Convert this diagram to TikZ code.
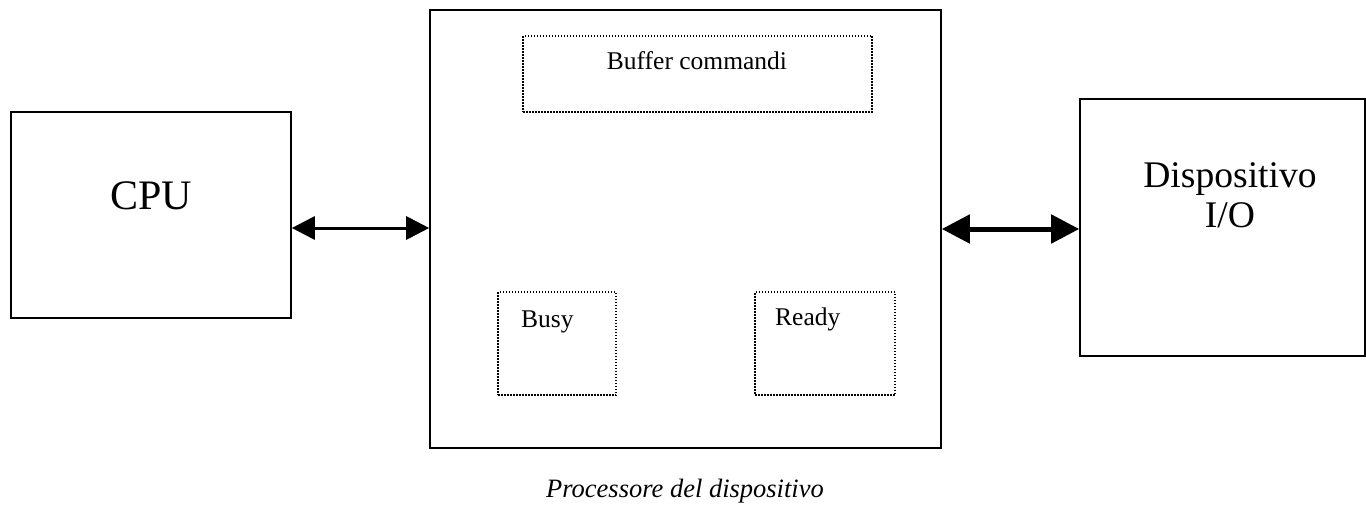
\documentclass[tikz,border=0pt]{standalone}
\usepackage{fontspec}
\setmainfont{Liberation Serif}
\usetikzlibrary{arrows.meta}
\begin{document}
\begin{tikzpicture}[x=1pt,y=-1pt,
  box/.style={draw, line width=1.6pt, inner sep=0pt, rectangle},
  dotbox/.style={draw, line width=1.6pt, dash pattern=on 1.5pt off 1.5pt, inner sep=0pt, rectangle},
  big/.style={font=\fontsize{42}{46}\selectfont, inner sep=0pt},
  mid/.style={font=\fontsize{37.6}{40}\selectfont, inner sep=0pt},
  small/.style={font=\fontsize{25.5}{28}\selectfont, inner sep=0pt},
  arrthin/.style={line width=3pt, {Triangle[length=23pt,width=23pt]}-{Triangle[length=23pt,width=23pt]}},
  arrthick/.style={line width=5pt, {Triangle[length=28pt,width=28pt]}-{Triangle[length=28pt,width=28pt]}}
]
\useasboundingbox (0,0) rectangle (1366,508);
\node[box, minimum width=280pt, minimum height=206pt] (cpu) at (151,215) {};
\node[big, anchor=base] (cputxt) at (151,209) {CPU};
\node[box, minimum width=511pt, minimum height=438pt] (proc) at (685.5,229) {};
\node[box, minimum width=285pt, minimum height=257pt] (dev) at (1222.5,227.5) {};
\node[mid, anchor=base] (devtxt1) at (1230,187) {Dispositivo};
\node[mid, anchor=base] (devtxt2) at (1230,227) {I/O};
\node[dotbox, minimum width=349pt, minimum height=76pt] (buf) at (697.5,74) {};
\node[small, anchor=base] (buftxt) at (697,70) {Buffer commandi};
\node[dotbox, minimum width=118pt, minimum height=103pt] (busy) at (557,343.5) {};
\node[small, anchor=base west] (busytxt) at (521,327) {Busy};
\node[dotbox, minimum width=140pt, minimum height=103pt] (ready) at (825,343.5) {};
\node[small, anchor=base west] (readytxt) at (775,325) {Ready};
\node[font=\fontsize{26.5}{30}\selectfont\itshape, inner sep=0pt, anchor=base] (cap) at (685,497) {Processore del dispositivo};
\draw[arrthin] (cpu.east |- 0,228) -- (proc.west |- 0,228);
\draw[arrthick] (proc.east |- 0,229) -- (dev.west |- 0,229);
\end{tikzpicture}
\end{document}
